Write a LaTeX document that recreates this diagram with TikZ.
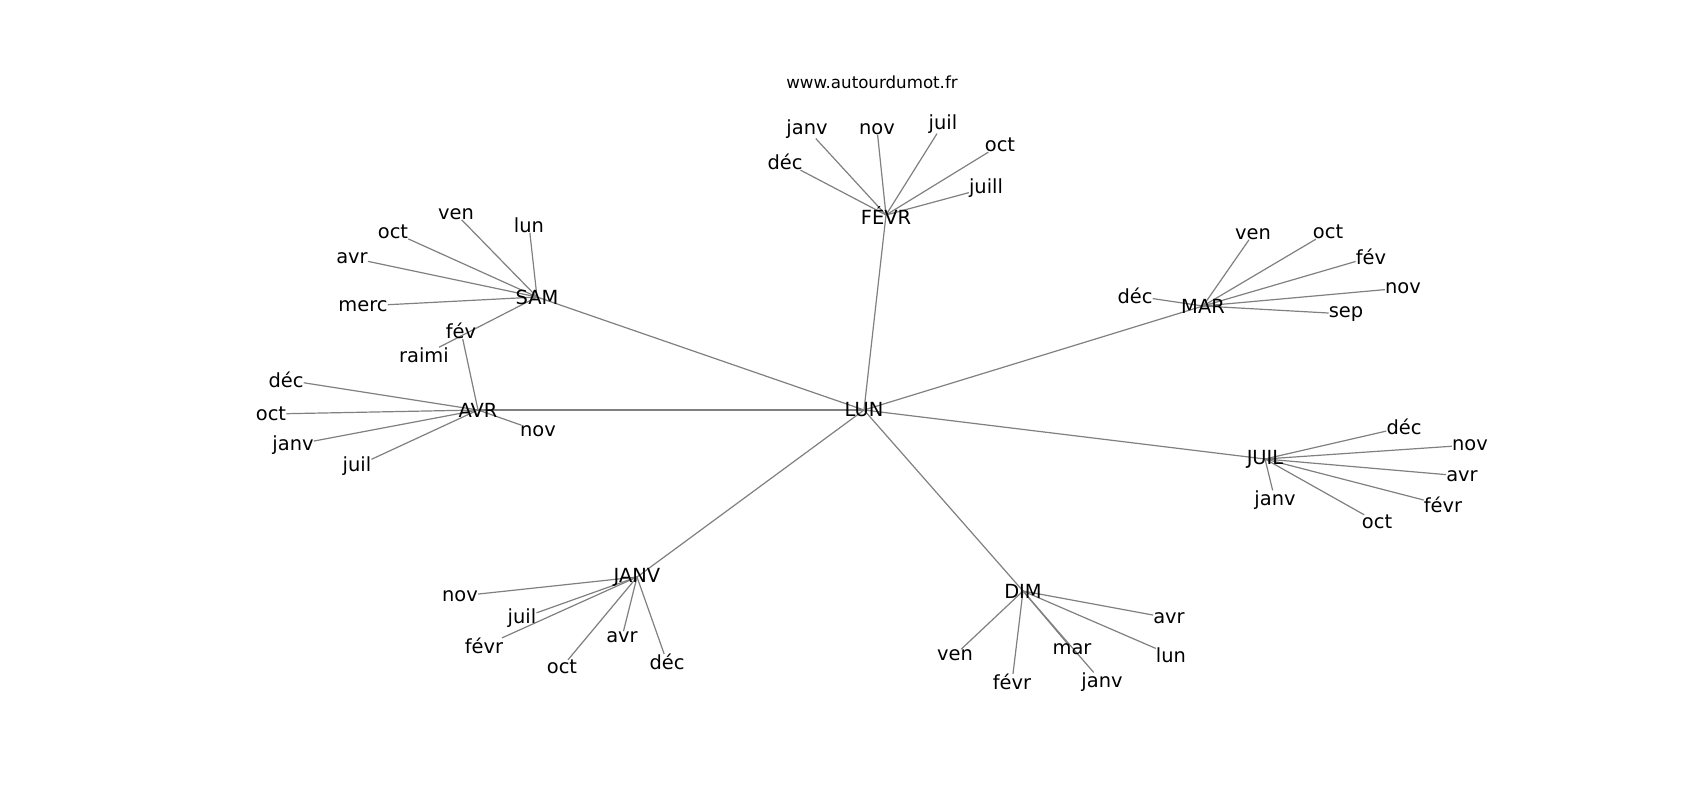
\documentclass[tikz,border=0pt]{standalone}
\usepackage{fontspec}
\setmainfont{DejaVu Sans}
\pgfdeclarelayer{bg}
\pgfsetlayers{bg,main}
\tikzset{
  lbl/.style={inner sep=0pt, font=\fontsize{19.44}{23}\selectfont, text=black},
  ttl/.style={inner sep=0pt, font=\fontsize{16.67}{20}\selectfont, text=black},
  edge/.style={draw=gray, line width=1.2pt},
}
\begin{document}
\begin{tikzpicture}[x=1pt,y=-1pt]
\useasboundingbox (0,0) rectangle (1700,800);
% hubs
\node[lbl] (LUN) at (864,410) {LUN};
\node[lbl] (FEVR) at (886,215) {FÉVR};
\node[lbl] (SAM) at (537,297) {SAM};
\node[lbl] (AVR) at (478,410) {AVR};
\node[lbl] (MAR) at (1203,306) {MAR};
\node[lbl] (JUIL) at (1265,459) {JUIL};
\node[lbl] (JANV) at (637,577) {JANV};
\node[lbl] (DIM) at (1023,591) {DIM};
% title
\node[ttl] (title) at (872,82) {www.autourdumot.fr};
% FEVR leaves
\node[lbl] (f1) at (807,129) {janv};
\node[lbl] (f2) at (877,129) {nov};
\node[lbl] (f3) at (943,124) {juil};
\node[lbl] (f4) at (1000,145) {oct};
\node[lbl] (f5) at (986,188) {juill};
\node[lbl] (f6) at (785,162) {déc};
% SAM leaves
\node[lbl] (s1) at (456,214) {ven};
\node[lbl] (s2) at (529,225) {lun};
\node[lbl] (s3) at (393,232) {oct};
\node[lbl] (s4) at (352,258) {avr};
\node[lbl] (s5) at (363,306) {merc};
\node[lbl] (s6) at (424,355) {raimi};
% AVR leaves
\node[lbl] (a0) at (461,331) {fév};
\node[lbl] (a1) at (286,380) {déc};
\node[lbl] (a2) at (271,414) {oct};
\node[lbl] (a3) at (293,445) {janv};
\node[lbl] (a4) at (357,466) {juil};
\node[lbl] (a5) at (538,431) {nov};
% MAR leaves
\node[lbl] (m1) at (1135,296) {déc};
\node[lbl] (m2) at (1253,234) {ven};
\node[lbl] (m3) at (1328,232) {oct};
\node[lbl] (m4) at (1371,257) {fév};
\node[lbl] (m5) at (1403,288) {nov};
\node[lbl] (m6) at (1346,314) {sep};
% JUIL leaves
\node[lbl] (u1) at (1404,427) {déc};
\node[lbl] (u2) at (1470,445) {nov};
\node[lbl] (u3) at (1462,476) {avr};
\node[lbl] (u4) at (1443,505) {févr};
\node[lbl] (u5) at (1377,522) {oct};
\node[lbl] (u6) at (1275,500) {janv};
% JANV leaves
\node[lbl] (j1) at (460,596) {nov};
\node[lbl] (j2) at (522,618) {juil};
\node[lbl] (j3) at (484,646) {févr};
\node[lbl] (j4) at (562,667) {oct};
\node[lbl] (j5) at (622,637) {avr};
\node[lbl] (j6) at (667,662) {déc};
% DIM leaves
\node[lbl] (d1) at (1169,618) {avr};
\node[lbl] (d2) at (1171,655) {lun};
\node[lbl] (d3) at (955,655) {ven};
\node[lbl] (d4) at (1012,682) {févr};
\node[lbl] (d5) at (1072,649) {mar};
\node[lbl] (d6) at (1102,682) {janv};
\begin{pgfonlayer}{bg}
\fill[white] (0,0) rectangle (1700,800);
% hub edges
\foreach \h in {FEVR,SAM,AVR,MAR,JUIL,JANV,DIM}
  \draw[edge] (LUN.center) -- (\h.center);
\foreach \l in {f1,f2,f3,f4,f5,f6}
  \draw[edge] (FEVR.center) -- (\l);
\foreach \l in {s1,s2,s3,s4,s5,s6}
  \draw[edge] (SAM.center) -- (\l);
\foreach \l in {a0,a1,a2,a3,a4,a5}
  \draw[edge] (AVR.center) -- (\l);
\foreach \l in {m1,m2,m3,m4,m5,m6}
  \draw[edge] (MAR.center) -- (\l);
\foreach \l in {u1,u2,u3,u4,u5,u6}
  \draw[edge] (JUIL.center) -- (\l);
\foreach \l in {j1,j2,j3,j4,j5,j6}
  \draw[edge] (JANV.center) -- (\l);
\foreach \l in {d1,d2,d3,d4,d5,d6}
  \draw[edge] (DIM.center) -- (\l);
\end{pgfonlayer}
\end{tikzpicture}
\end{document}
